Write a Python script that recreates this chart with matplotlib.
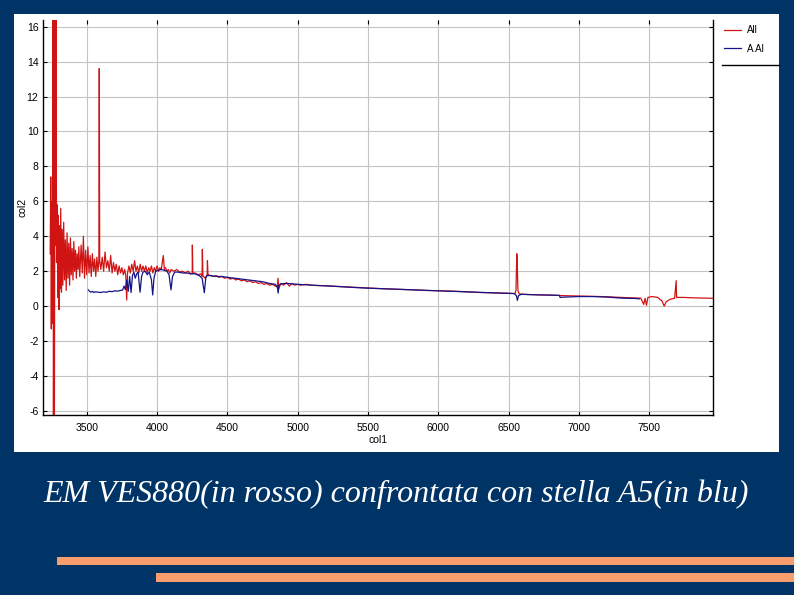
import matplotlib.pyplot as plt
from matplotlib.lines import Line2D
from matplotlib.patches import Rectangle

plt.rcParams['axes.unicode_minus'] = False

# EM VES880 spectrum (red, "All")
red_wl = [3240, 3244, 3248, 3252, 3256, 3260, 3263, 3267, 3270, 3274, 3278, 3282, 3285,
          3290, 3294, 3298, 3302, 3306, 3310, 3315, 3320, 3325, 3330, 3336, 3342, 3348,
          3354, 3360, 3366, 3372, 3378, 3384, 3390, 3396, 3402, 3408, 3414, 3420, 3426,
          3432, 3438, 3444, 3450, 3460, 3468, 3476, 3484, 3492, 3500, 3508, 3516, 3524,
          3532, 3540, 3548, 3556, 3564, 3572, 3580, 3586, 3589, 3592, 3600, 3610, 3620,
          3630, 3640, 3650, 3660, 3670, 3680, 3690, 3700, 3710, 3720, 3730, 3740, 3750,
          3760, 3770, 3778, 3784, 3790, 3800, 3810, 3820, 3830, 3840, 3850, 3860, 3870,
          3880, 3890, 3900, 3910, 3920, 3930, 3940, 3950, 3960, 3970, 3980, 3990, 4000,
          4010, 4020, 4030, 4044, 4052, 4060, 4070, 4080, 4090, 4100, 4120, 4140, 4160,
          4180, 4200, 4220, 4240, 4250, 4251, 4254, 4270, 4290, 4310, 4320, 4322, 4326,
          4340, 4356, 4358, 4362, 4380, 4400, 4420, 4440, 4460, 4480, 4500, 4520, 4540,
          4560, 4580, 4600, 4620, 4640, 4660, 4680, 4700, 4720, 4740, 4760, 4780, 4800,
          4820, 4840, 4855, 4860, 4865, 4880, 4900, 4920, 4940, 4960, 4980, 5000, 5020,
          5060, 5100, 5150, 5200, 5300, 5400, 5500, 5600, 5700, 5800, 5900, 6000, 6100,
          6200, 6300, 6400, 6500, 6545, 6552, 6558, 6562, 6566, 6575, 6600, 6700, 6800,
          6900, 7000, 7100, 7200, 7300, 7400, 7440, 7460, 7470, 7480, 7490, 7520, 7560,
          7590, 7606, 7620, 7650, 7680, 7691, 7694, 7750, 7800, 7850, 7900, 7953]
red_flux = [3.0, 7.4, -1.3, 6.0, -1.0, 17.5, -7.5, 4.5, -7.5, 17.5, 3.5, 17.5, 2.5,
            5.8, 0.5, 5.2, -0.2, 4.6, 1.0, 5.6, 0.8, 4.4, 1.2, 4.8, 1.5, 3.8,
            0.9, 4.2, 1.6, 3.6, 1.2, 3.9, 1.8, 3.3, 1.5, 3.7, 2.0, 3.2, 1.6,
            3.0, 2.1, 3.4, 1.7, 3.5, 1.9, 4.0, 1.6, 3.2, 1.8, 3.4, 1.9, 2.9,
            1.7, 3.0, 2.0, 2.7, 1.7, 2.8, 2.0, 2.6, 13.6, 2.6, 2.1, 2.8, 2.0,
            3.1, 2.2, 2.6, 2.0, 2.9, 1.9, 2.5, 2.0, 2.4, 1.8, 2.3, 1.9, 2.2,
            1.8, 2.1, 1.7, 0.35, 1.9, 2.3, 1.9, 2.4, 2.0, 2.6, 2.0, 2.3, 1.9,
            2.4, 2.0, 2.3, 2.0, 2.3, 1.9, 2.2, 2.0, 2.3, 1.9, 2.2, 2.0, 2.3,
            2.0, 2.2, 2.1, 2.9, 2.1, 2.2, 2.0, 2.1, 1.9, 2.1, 2.0, 2.1, 1.95,
            2.0, 1.9, 2.0, 1.85, 1.9, 3.5, 1.9, 1.9, 1.8, 1.85, 1.7, 3.25, 1.75,
            1.6, 1.8, 2.6, 1.8, 1.75, 1.7, 1.75, 1.65, 1.7, 1.6, 1.65, 1.55, 1.6,
            1.5, 1.55, 1.45, 1.5, 1.4, 1.45, 1.35, 1.4, 1.3, 1.35, 1.25, 1.3, 1.2,
            1.25, 1.15, 1.1, 1.6, 1.0, 1.3, 1.2, 1.35, 1.15, 1.3, 1.2, 1.25, 1.2,
            1.25, 1.2, 1.18, 1.17, 1.12, 1.08, 1.04, 1.0, 0.97, 0.94, 0.9, 0.88, 0.86,
            0.82, 0.78, 0.76, 0.74, 0.72, 0.9, 3.0, 2.1, 0.9, 0.7, 0.68, 0.65, 0.63,
            0.6, 0.58, 0.56, 0.54, 0.5, 0.47, 0.46, 0.1, 0.45, 0.05, 0.5, 0.55, 0.5,
            0.3, 0.0, 0.25, 0.4, 0.45, 1.46, 0.5, 0.5, 0.48, 0.47, 0.46, 0.45]

# A5 comparison star (blue, "A.Al")
blue_wl = [3512, 3520, 3530, 3540, 3550, 3560, 3580, 3600, 3620, 3640, 3660, 3680, 3700,
           3720, 3740, 3755, 3765, 3775, 3785, 3795, 3805, 3815, 3825, 3835, 3845, 3855,
           3865, 3879, 3890, 3900, 3915, 3930, 3945, 3960, 3969, 3978, 3990, 4010, 4030,
           4050, 4070, 4085, 4099, 4110, 4125, 4150, 4180, 4210, 4240, 4270, 4300, 4320,
           4336, 4346, 4355, 4380, 4420, 4460, 4500, 4550, 4600, 4650, 4700, 4750, 4800,
           4840, 4855, 4861, 4867, 4880, 4920, 4960, 5000, 5100, 5200, 5300, 5400, 5500,
           5600, 5700, 5800, 5900, 6000, 6100, 6200, 6300, 6400, 6500, 6540, 6555, 6562,
           6570, 6590, 6650, 6700, 6800, 6860, 6866, 6900, 7000, 7100, 7200, 7300, 7400,
           7430]
blue_flux = [0.93, 0.85, 0.8, 0.85, 0.78, 0.82, 0.8, 0.78, 0.82, 0.8, 0.85, 0.83, 0.88,
             0.86, 0.9, 0.92, 1.15, 0.95, 1.5, 0.85, 1.7, 0.78, 1.75, 1.95, 1.6, 1.85,
             1.95, 0.8, 1.7, 1.95, 2.0, 1.8, 1.95, 1.5, 0.64, 1.6, 2.0, 2.05, 2.1,
             2.05, 2.0, 1.8, 0.93, 1.7, 1.95, 1.95, 1.9, 1.9, 1.85, 1.85, 1.75, 1.6,
             0.77, 1.6, 1.75, 1.75, 1.7, 1.7, 1.65, 1.6, 1.55, 1.5, 1.45, 1.4, 1.3,
             1.25, 1.1, 0.75, 1.2, 1.28, 1.3, 1.28, 1.25, 1.2, 1.16, 1.12, 1.07, 1.03,
             1.0, 0.97, 0.94, 0.91, 0.88, 0.85, 0.82, 0.79, 0.76, 0.73, 0.72, 0.6, 0.33,
             0.6, 0.68, 0.66, 0.65, 0.63, 0.62, 0.5, 0.52, 0.55, 0.55, 0.52, 0.46, 0.44,
             0.42]

x_ticks = [3500, 4000, 4500, 5000, 5500, 6000, 6500, 7000, 7500]
y_ticks = [-6, -4, -2, 0, 2, 4, 6, 8, 10, 12, 14, 16]
caption = "EM VES880(in rosso) confrontata con stella A5(in blu)"

W, H = 794, 595
fig = plt.figure(figsize=(W / 100, H / 100), dpi=100)
fig.patch.set_facecolor('#003366')

def fx(px):
    return px / W

def fy(py):
    return 1 - py / H

# white panel behind the chart
fig.add_artist(Rectangle((fx(14), fy(452)), fx(779) - fx(14), fy(14) - fy(452),
                         transform=fig.transFigure, facecolor='white', edgecolor='none', zorder=0))

ax = fig.add_axes([fx(43.3), fy(415), fx(713) - fx(43.3), fy(20) - fy(415)])
ax.set_facecolor('white')
ax.plot(red_wl, red_flux, color='#d01414', lw=0.9, label='All')
ax.plot(blue_wl, blue_flux, color='#14148a', lw=0.9, label='A.Al')

ax.set_xlim(3191, 7953)
ax.set_ylim(-6.23, 16.38)
ax.set_xticks(x_ticks)
ax.set_yticks(y_ticks)
ax.grid(True, color='#c4c4c4', lw=0.8)
ax.set_axisbelow(True)
ax.spines['top'].set_visible(False)
for s in ['left', 'bottom', 'right']:
    ax.spines[s].set_linewidth(1.0)
ax.tick_params(direction='in', length=3, width=0.8, top=True, right=True,
               labelsize=7.5, labelfontfamily='Liberation Sans')
ax.tick_params(axis='x', pad=6)
ax.tick_params(axis='y', pad=3.5)

ax.set_xlabel('col1', fontsize=7.5, family='Liberation Sans', labelpad=1)
fig.text(fx(22), fy(207), 'col2', rotation=90, fontsize=7.5, family='Liberation Sans',
         ha='center', va='center')

leg = ax.legend(loc='upper left', bbox_to_anchor=(fx(724), fy(25)),
                bbox_transform=fig.transFigure, frameon=False, fontsize=7,
                prop={'family': 'Liberation Sans', 'size': 7},
                handlelength=1.7, handletextpad=0.7, labelspacing=0.9, borderpad=0,
                borderaxespad=0)
fig.add_artist(Line2D([fx(722), fx(779)], [fy(65), fy(65)], transform=fig.transFigure,
                      color='black', lw=1.0))

fig.text(fx(396), fy(494), caption, color='white', fontsize=23, style='italic',
         family='Liberation Serif', ha='center', va='center')

# decorative bars at the bottom
fig.add_artist(Rectangle((fx(57), fy(565)), 1 - fx(57), fy(557) - fy(565),
                         transform=fig.transFigure, facecolor='#f79c6c', edgecolor='none'))
fig.add_artist(Rectangle((fx(156), fy(582)), 1 - fx(156), fy(573) - fy(582),
                         transform=fig.transFigure, facecolor='#f79c6c', edgecolor='none'))

fig.savefig('out.png', dpi=100, facecolor=fig.get_facecolor())
